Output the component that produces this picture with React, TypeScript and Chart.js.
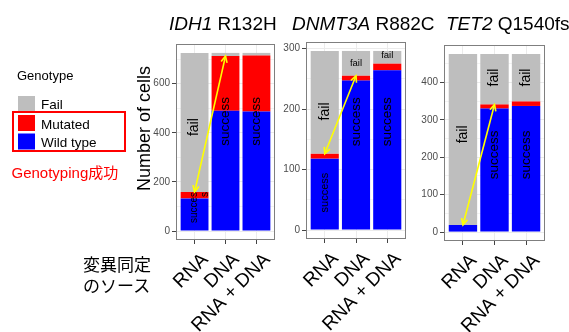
import React, { useEffect, useRef } from 'react';
import { Chart, registerables } from 'chart.js';

Chart.register(...registerables);

const FONT = "'Liberation Sans', Arial, 'Noto Sans CJK JP', sans-serif";
Chart.defaults.font.family = FONT;

// ---- data ----
const sources = ['RNA', 'DNA', 'RNA + DNA'];
const genotypeNames = ['Wild type', 'Mutated', 'Fail'];
const genotypeColors = ['#0000FF', '#FF0000', '#BEBEBE'];

const idh1Wild = [133, 490, 487];
const idh1Mutated = [26, 222, 227];
const idh1Fail = [566, 13, 11];
const idh1Ticks = [0, 200, 400, 600];

const dnmt3aWild = [118, 247, 264];
const dnmt3aMutated = [8, 8, 11];
const dnmt3aFail = [170, 41, 21];
const dnmt3aTicks = [0, 100, 200, 300];

const tet2Wild = [19, 330, 337];
const tet2Mutated = [0, 11, 12];
const tet2Fail = [457, 135, 127];
const tet2Ticks = [0, 100, 200, 300, 400];

// in-bar labels: bar index, value where the label sits, text, font size, vertical?
const idh1Notes = [
  { bar: 0, value: 423, text: 'fail', size: 14, vertical: true },
  { bar: 1, value: 446, text: 'success', size: 13.5, vertical: true },
  { bar: 2, value: 446, text: 'success', size: 13.5, vertical: true },
  { bar: 0, value: 96, text: 'succes', size: 10, vertical: true },
  { bar: 0.35, value: 149, text: 's', size: 10, vertical: true },
];
const dnmt3aNotes = [
  { bar: 0, value: 196, text: 'fail', size: 14, vertical: true },
  { bar: 0, value: 62, text: 'success', size: 11, vertical: true },
  { bar: 1, value: 179, text: 'success', size: 13.5, vertical: true },
  { bar: 2, value: 179, text: 'success', size: 13.5, vertical: true },
  { bar: 1, value: 275, text: 'fail', size: 9.5, vertical: false },
  { bar: 2, value: 288, text: 'fail', size: 9.5, vertical: false },
];
const tet2Notes = [
  { bar: 0, value: 261, text: 'fail', size: 14, vertical: true },
  { bar: 1, value: 413, text: 'fail', size: 14, vertical: true },
  { bar: 2, value: 413, text: 'fail', size: 14, vertical: true },
  { bar: 1, value: 206, text: 'success', size: 13.5, vertical: true },
  { bar: 2, value: 206, text: 'success', size: 13.5, vertical: true },
];

type PanelCfg = {
  wild: number[]; mutated: number[]; fail: number[]; ticks: number[]; notes: any[];
  left: number; width: number; yWidth: number; padTop: number; padRight: number; bottom: number;
};

const panels: PanelCfg[] = [
  { wild: idh1Wild, mutated: idh1Mutated, fail: idh1Fail, ticks: idh1Ticks, notes: idh1Notes,
    left: 140, width: 150, yWidth: 36, padTop: 44, padRight: 15, bottom: 240 },
  { wild: dnmt3aWild, mutated: dnmt3aMutated, fail: dnmt3aFail, ticks: dnmt3aTicks, notes: dnmt3aNotes,
    left: 270, width: 155, yWidth: 36, padTop: 42, padRight: 19, bottom: 239 },
  { wild: tet2Wild, mutated: tet2Mutated, fail: tet2Fail, ticks: tet2Ticks, notes: tet2Notes,
    left: 410, width: 159, yWidth: 34, padTop: 45, padRight: 24, bottom: 241 },
];

const H = 332;

function drawArrowHead(ctx: CanvasRenderingContext2D, fx: number, fy: number, tx: number, ty: number) {
  const ang = Math.atan2(ty - fy, tx - fx);
  const len = 7;
  const spread = Math.PI / 7;
  ctx.beginPath();
  ctx.moveTo(tx - len * Math.cos(ang - spread), ty - len * Math.sin(ang - spread));
  ctx.lineTo(tx, ty);
  ctx.lineTo(tx - len * Math.cos(ang + spread), ty - len * Math.sin(ang + spread));
  ctx.stroke();
}

function makeDecoPlugin(cfg: PanelCfg) {
  return {
    id: 'panelDeco',
    afterDatasetsDraw(chart: any) {
      const { ctx, chartArea: a } = chart;
      const xs = chart.scales.x;
      const ys = chart.scales.y;
      ctx.save();
      // in-bar labels
      ctx.fillStyle = '#000';
      for (const n of cfg.notes) {
        ctx.save();
        ctx.translate(xs.getPixelForValue(n.bar), ys.getPixelForValue(n.value));
        if (n.vertical) ctx.rotate(-Math.PI / 2);
        ctx.font = `${n.size}px ${FONT}`;
        ctx.textAlign = 'center';
        ctx.textBaseline = 'middle';
        ctx.fillText(n.text, 0, 0);
        ctx.restore();
      }
      // arrow between RNA success and DNA success
      const s0 = cfg.wild[0] + cfg.mutated[0];
      const s1 = cfg.wild[1] + cfg.mutated[1];
      const x0 = xs.getPixelForValue(0), y0 = ys.getPixelForValue(s0);
      const x1 = xs.getPixelForValue(1), y1 = ys.getPixelForValue(s1);
      ctx.strokeStyle = '#FFFF00';
      ctx.lineWidth = 1.6;
      ctx.beginPath();
      ctx.moveTo(x0, y0);
      ctx.lineTo(x1, y1);
      ctx.stroke();
      drawArrowHead(ctx, x0, y0, x1, y1);
      drawArrowHead(ctx, x1, y1, x0, y0);
      // panel border
      ctx.strokeStyle = '#7F7F7F';
      ctx.lineWidth = 1;
      ctx.strokeRect(a.left + 0.5, a.top + 0.5, a.right - a.left - 1, a.bottom - a.top - 1);
      // rotated x labels
      ctx.fillStyle = '#000';
      ctx.font = `19px ${FONT}`;
      ctx.textAlign = 'right';
      ctx.textBaseline = 'top';
      sources.forEach((s, i) => {
        ctx.save();
        ctx.translate(xs.getPixelForValue(i) + 4, a.bottom + 10);
        ctx.rotate(-Math.PI / 4);
        ctx.fillText(s, 0, 0);
        ctx.restore();
      });
      ctx.restore();
    },
  };
}

function Panel({ cfg }: { cfg: PanelCfg }) {
  const ref = useRef<HTMLCanvasElement>(null);
  useEffect(() => {
    const totals = cfg.wild.map((w, i) => w + cfg.mutated[i] + cfg.fail[i]);
    const top = Math.max(...totals);
    const yMin = -0.05 * top;
    const yMax = 1.05 * top;
    const step = cfg.ticks[1] - cfg.ticks[0];
    const allTicks: number[] = [];
    for (let v = 0; v <= yMax; v += step / 2) allTicks.push(v);
    const isMajor = (v: number) => cfg.ticks.includes(v);
    const series = [cfg.wild, cfg.mutated, cfg.fail];
    const chart = new Chart(ref.current as HTMLCanvasElement, {
      type: 'bar',
      data: {
        datasets: series.map((vals, k) => ({
          label: genotypeNames[k],
          data: vals.map((v, i) => ({ x: i, y: v })),
          backgroundColor: genotypeColors[k],
          borderWidth: 0,
          stack: 'g',
          barPercentage: 0.9,
          categoryPercentage: 1,
        })),
      },
      options: {
        responsive: false,
        animation: false,
        events: [],
        layout: { padding: { top: cfg.padTop, right: cfg.padRight, left: 0, bottom: 0 } },
        plugins: { legend: { display: false }, tooltip: { enabled: false } },
        scales: {
          x: {
            type: 'linear',
            stacked: true,
            offset: false,
            min: -0.6,
            max: 2.6,
            afterBuildTicks: (s: any) => { s.ticks = sources.map((_, i) => ({ value: i })); },
            afterFit: (s: any) => { s.height = H - cfg.bottom; },
            grid: { offset: false, color: '#EBEBEB', lineWidth: 1, tickColor: '#444', tickLength: 4, drawTicks: true },
            border: { display: false },
            ticks: { display: false },
          },
          y: {
            type: 'linear',
            stacked: true,
            min: yMin,
            max: yMax,
            afterBuildTicks: (s: any) => { s.ticks = allTicks.map((v) => ({ value: v })); },
            afterFit: (s: any) => { s.width = cfg.yWidth; },
            grid: {
              color: '#EBEBEB',
              lineWidth: (c: any) => (c.tick && isMajor(c.tick.value) ? 1 : 0.6),
              tickColor: (c: any) => (c.tick && isMajor(c.tick.value) ? '#444' : 'rgba(0,0,0,0)'),
              tickLength: 4,
            },
            border: { display: false },
            ticks: {
              autoSkip: false,
              padding: 2,
              color: '#4D4D4D',
              font: { size: 10, family: FONT },
              callback: (v: any) => (isMajor(Number(v)) ? String(v) : ''),
            },
          },
        },
      } as any,
      plugins: [makeDecoPlugin(cfg)],
    });
    return () => chart.destroy();
  }, []);
  return (
    <canvas ref={ref} width={cfg.width} height={H}
      style={{ position: 'absolute', left: cfg.left, top: 0 }} />
  );
}

export default function App() {
  return (
    <div style={{ position: 'fixed', left: 0, top: 0, width: 569, height: H, background: '#fff', overflow: 'hidden' }}>
      {panels.map((p, i) => <Panel key={i} cfg={p} />)}
      <svg width={569} height={H} style={{ position: 'absolute', left: 0, top: 0, pointerEvents: 'none' }}
        fontFamily={FONT}>
        <text x={169} y={30} fontSize={19}><tspan fontStyle="italic">IDH1</tspan>{' R132H'}</text>
        <text x={292} y={30} fontSize={19}><tspan fontStyle="italic">DNMT3A</tspan>{' R882C'}</text>
        <text x={446} y={30} fontSize={19}><tspan fontStyle="italic">TET2</tspan>{' Q1540fs'}</text>
        <text transform="translate(150,128.5) rotate(-90)" textAnchor="middle" fontSize={18}>Number of cells</text>
        {/* legend */}
        <text x={17} y={80} fontSize={13}>Genotype</text>
        <rect x={18} y={96} width={17} height={16} fill={genotypeColors[2]} />
        <rect x={18} y={115} width={17} height={16} fill={genotypeColors[1]} />
        <rect x={18} y={133.5} width={17} height={16} fill={genotypeColors[0]} />
        <text x={41} y={109} fontSize={13.5}>{genotypeNames[2]}</text>
        <text x={41} y={129} fontSize={13.5}>{genotypeNames[1]}</text>
        <text x={41} y={146.5} fontSize={13.5}>{genotypeNames[0]}</text>
        <rect x={13} y={112} width={112} height={39} fill="none" stroke="#FF0000" strokeWidth={2} />
        <text x={11.5} y={178} fontSize={15} fill="#FF0000">Genotyping成功</text>
        <text x={83} y={271} fontSize={17}>変異同定</text>
        <text x={83} y={292} fontSize={17}>のソース</text>
      </svg>
    </div>
  );
}
